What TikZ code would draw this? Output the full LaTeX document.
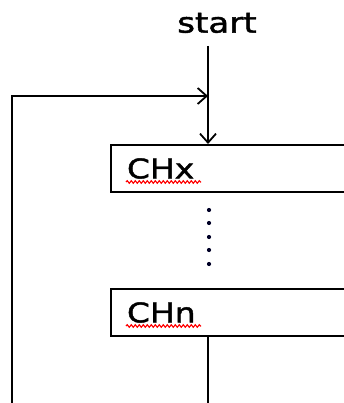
\documentclass[tikz,border=0pt]{standalone}
\usepackage{fontspec}
\newfontfamily\wfont[FakeStretch=1.22,FakeBold=1.6]{DejaVu Sans}
\usetikzlibrary{arrows.meta,decorations.pathmorphing}
\begin{document}
\begin{tikzpicture}[x=1pt,y=1pt,
  line width=2pt,
  txt/.style={font=\wfont\fontsize{28}{30}\selectfont, inner sep=0pt},
  chbox/.style={draw, line width=2pt, anchor=north west, minimum height=47pt,
    text width=220pt, align=left, inner xsep=16pt, inner ysep=0pt,
    font=\wfont\fontsize{27}{30}\selectfont},
  arr/.style={-{Straight Barb[length=9pt,width=16pt,line width=1.8pt]}},
  squig/.style={red, line width=1.1pt, decorate,
    decoration={snake, amplitude=1.3pt, segment length=4pt}},
  dot/.style={circle, fill=black!85!blue, inner sep=0pt, minimum size=4.2pt}]
\useasboundingbox (0,0) rectangle (344,-403);
\clip (0,0) rectangle (344,-403);
\node[txt] (start) at (217,-23) {start};
\node[chbox] (chx) at (110,-144) {CHx};
\node[chbox] (chn) at (110,-288) {CHn};
\coordinate (top) at (208,-46);
\coordinate (join) at (208,-96);
\coordinate (corner) at (12,-96);
\coordinate (lbot) at (12,-405);
\coordinate (rbot) at (208,-405);
\draw[arr] (top) -- (top |- chx.north);
\draw[arr] (lbot) -- (corner) -- (join);
\draw (top |- chn.south) -- (rbot);
\foreach \y/\n in {210/d1,223/d2,237/d3,250/d4,264/d5}
  \node[dot] (\n) at (209,-\y) {};
\coordinate (sx1) at (126,-182);
\coordinate (sx2) at (201,-182);
\coordinate (sn1) at (126,-326);
\coordinate (sn2) at (201,-326);
\draw[squig] (sx1) -- (sx2);
\draw[squig] (sn1) -- (sn2);
\end{tikzpicture}
\end{document}
